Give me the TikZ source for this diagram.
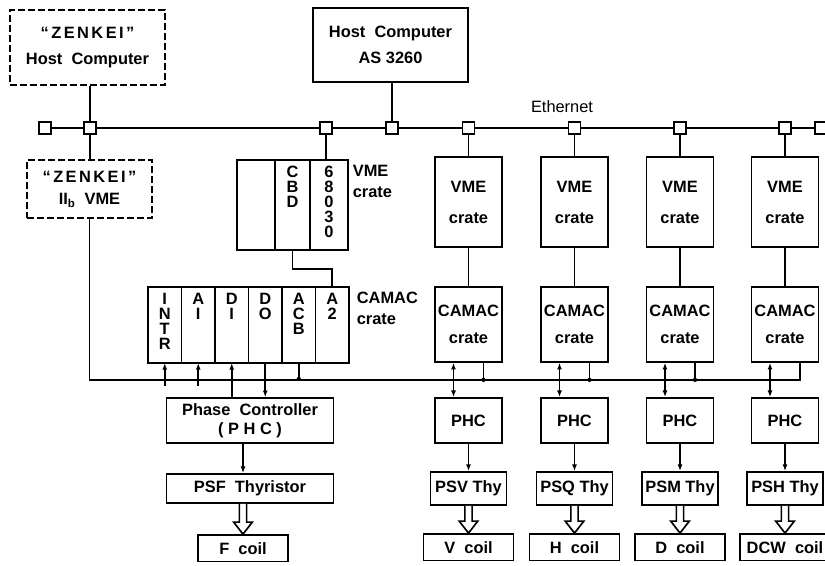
\documentclass[tikz,border=0pt]{standalone}
\usepackage{fontspec}
\setmainfont{Liberation Sans}
\usetikzlibrary{arrows.meta, positioning, calc}
\tikzset{box/.style={rectangle,draw,align=center,inner sep=1pt,font=\fontsize{14}{15}\selectfont\bfseries},
dbox/.style={box,dash pattern=on 2mm off 1mm},
vmebox/.style={box,minimum width=20.1mm,minimum height=27mm},
cambox/.style={box,minimum width=20.1mm,minimum height=22.5mm},
phcbox/.style={box,minimum width=20.1mm,minimum height=13.5mm},
thybox/.style={box,minimum width=22.8mm,minimum height=9.9mm},
coilbox/.style={box,minimum width=27mm,minimum height=8mm},
slot/.style={rectangle,draw,inner sep=0pt,outer sep=0pt},
stack/.style={anchor=north,align=center,inner sep=0pt,yshift=-1.6mm,font=\fontsize{14}{12.8}\selectfont\bfseries},
tap/.style={rectangle,draw,fill=white,minimum size=3.6mm,inner sep=0pt},
dot/.style={circle,fill,inner sep=0pt,minimum size=1.3mm},
tag/.style={align=left,inner sep=0pt,font=\fontsize{14}{15}\selectfont\bfseries},
line/.style={-{Latex[length=2mm,width=1.5mm]}},
both/.style={{Latex[length=2mm,width=1.5mm]}-{Latex[length=2mm,width=1.5mm]}}}
\newcommand{\thyarrow}[2]{%
  \draw[fill=white] let \p1=(#1.south -| #2.north), \p2=(#2.north) in
    (\x1-1.1mm,\y1) -- (\x1-1.1mm,\y2+3.6mm) -- (\x1-2.8mm,\y2+3.6mm) -- (\x2,\y2)
    -- (\x1+2.8mm,\y2+3.6mm) -- (\x1+1.1mm,\y2+3.6mm) -- (\x1+1.1mm,\y1);}

\begin{document}
\begin{tikzpicture}[x=0.3mm,y=-0.3mm,line width=1.4pt]
\useasboundingbox (0,0) rectangle (825,565);
% host computers
\node[dbox,minimum width=46.5mm,minimum height=22.5mm] (zh) at (87.5,47.5) {{\addfontfeatures{LetterSpace=15}``ZENKEI''}\\[2.5mm]Host\ \ Computer};
\node[box,minimum width=46.5mm,minimum height=22.2mm] (as) at (390.5,45) {Host\ \ Computer\\[2.5mm]AS 3260};
\node[dbox,minimum width=37.5mm,minimum height=17.4mm] (zvme) at (89.5,189) {{\addfontfeatures{LetterSpace=15}``ZENKEI''}\\[1.5mm]II\textsubscript{b}\ \ VME};

% ethernet
\node[tap] (e0) at (45,128) {};
\node[tap] (e1) at (90,128) {};
\node[tap] (e2) at (326,128) {};
\node[tap] (e3) at (392,128) {};
\node[tap] (e4) at (468.5,128) {};
\node[tap] (e5) at (574.5,128) {};
\node[tap] (e6) at (680,128) {};
\node[tap] (e7) at (785,128) {};
\node[tap] (e8) at (821,128) {};
\node[tag,font=\fontsize{14}{15}\selectfont] (eth) at (562,107) {Ethernet};
\draw (e0) -- (e1) -- (e2) -- (e3) -- (e4) -- (e5) -- (e6) -- (e7) -- (e8);
\draw (e1 |- zh.south) -- (e1);
\draw (e1) -- (e1 |- zvme.north);
\draw (e3 |- as.south) -- (e3);

% VME crate with CPU
\node[slot,minimum width=11.4mm,minimum height=27mm] (vmeA) at (256,205) {};
\node[slot,minimum width=10.5mm,minimum height=27mm,right=0pt of vmeA,label={[stack]north:{C\\B\\D}}] (cbd) {};
\node[slot,minimum width=11.4mm,minimum height=27mm,right=0pt of cbd,label={[stack]north:{6\\8\\0\\3\\0}}] (cpu) {};
\node[tag,anchor=west] (vmetag) at (352,181) {VME\\[1mm]crate};
\draw (e2) -- (e2 |- cpu.north);

% CAMAC crate modules
\node[slot,minimum width=10.05mm,minimum height=22.8mm,label={[stack]north:{I\\N\\T\\R}}] (intr) at (164.75,325) {};
\node[slot,minimum width=10.05mm,minimum height=22.8mm,right=0pt of intr,label={[stack]north:{A\\I}}] (ai) {};
\node[slot,minimum width=10.05mm,minimum height=22.8mm,right=0pt of ai,label={[stack]north:{D\\I}}] (din) {};
\node[slot,minimum width=10.05mm,minimum height=22.8mm,right=0pt of din,label={[stack]north:{D\\O}}] (dout) {};
\node[slot,minimum width=10.05mm,minimum height=22.8mm,right=0pt of dout,label={[stack]north:{A\\C\\B}}] (acb) {};
\node[slot,minimum width=10.05mm,minimum height=22.8mm,right=0pt of acb,label={[stack]north:{A\\2}}] (a2) {};
\node[tag,anchor=west] (camtag) at (356,308) {CAMAC\\[1mm]crate};
\draw (cbd.south) -- ++(0,19) -| (a2.north);

% F coil line
\node[box,minimum width=50.1mm,minimum height=13.5mm] (phc0) at (250,420.5) {Phase\ \ Controller\\[0.5mm]( P H C )};
\node[box,minimum width=50mm,minimum height=8.7mm,below=8.8mm of phc0] (psf) {PSF\ \ Thyristor};
\node[box,minimum width=27mm,minimum height=8mm,below=9.1mm of psf,xshift=-2.1mm] (fcoil) {F\ \ coil};
\draw[line] ($(intr.south)+(0,23)$) -- (intr.south);
\draw[line] ($(ai.south)+(0,23)$) -- (ai.south);
\draw[line] (din.south |- phc0.north) -- (din.south);
\draw[line] (dout.south) -- (dout.south |- phc0.north);
\draw (acb.south) -- ++(0,16) node[dot] {};
\draw[line] (phc0.south -| fcoil.north) -- (psf.north -| fcoil.north);
\thyarrow{psf}{fcoil}

% V coil
\node[vmebox] (vme1) at (468.5,202) {VME\\[4mm]crate};
\node[cambox,below=11.5mm of vme1] (cam1) {CAMAC\\[3mm]crate};
\node[phcbox,below=10.3mm of cam1] (phc1) {PHC};
\node[thybox,below=8.2mm of phc1] (thy1) {PSV Thy};
\node[coilbox,below=8.2mm of thy1] (coil1) {V\ \ coil};
\draw (e4) -- (vme1);
\draw (vme1) -- (cam1);
\draw[both] ([xshift=-4.5mm]cam1.south) -- ([xshift=-4.5mm]phc1.north);
\draw ([xshift=4.5mm]cam1.south) -- ++(0,17) node[dot] {};
\draw[line] (phc1) -- (thy1);
\thyarrow{thy1}{coil1}

% H coil
\node[vmebox] (vme2) at (574.5,202) {VME\\[4mm]crate};
\node[cambox,below=11.5mm of vme2] (cam2) {CAMAC\\[3mm]crate};
\node[phcbox,below=10.3mm of cam2] (phc2) {PHC};
\node[thybox,below=8.2mm of phc2] (thy2) {PSQ Thy};
\node[coilbox,below=8.2mm of thy2] (coil2) {H\ \ coil};
\draw (e5) -- (vme2);
\draw (vme2) -- (cam2);
\draw[both] ([xshift=-4.5mm]cam2.south) -- ([xshift=-4.5mm]phc2.north);
\draw ([xshift=4.5mm]cam2.south) -- ++(0,17) node[dot] {};
\draw[line] (phc2) -- (thy2);
\thyarrow{thy2}{coil2}

% D coil
\node[vmebox] (vme3) at (680,202) {VME\\[4mm]crate};
\node[cambox,below=11.5mm of vme3] (cam3) {CAMAC\\[3mm]crate};
\node[phcbox,below=10.3mm of cam3] (phc3) {PHC};
\node[thybox,below=8.2mm of phc3] (thy3) {PSM Thy};
\node[coilbox,below=8.2mm of thy3] (coil3) {D\ \ coil};
\draw (e6) -- (vme3);
\draw (vme3) -- (cam3);
\draw[both] ([xshift=-4.5mm]cam3.south) -- ([xshift=-4.5mm]phc3.north);
\draw ([xshift=4.5mm]cam3.south) -- ++(0,17) node[dot] {};
\draw[line] (phc3) -- (thy3);
\thyarrow{thy3}{coil3}

% DCW coil
\node[vmebox] (vme4) at (785,202) {VME\\[4mm]crate};
\node[cambox,below=11.5mm of vme4] (cam4) {CAMAC\\[3mm]crate};
\node[phcbox,below=10.3mm of cam4] (phc4) {PHC};
\node[thybox,below=8.2mm of phc4] (thy4) {PSH Thy};
\node[coilbox,below=8.2mm of thy4] (coil4) {DCW\ \ coil};
\draw (e7) -- (vme4);
\draw (vme4) -- (cam4);
\draw[both] ([xshift=-4.5mm]cam4.south) -- ([xshift=-4.5mm]phc4.north);
\draw[line] (phc4) -- (thy4);
\thyarrow{thy4}{coil4}

% control bus
\draw ([xshift=4.5mm]cam4.south) -- ++(0,17) -| (zvme.south);
\end{tikzpicture}
\end{document}
